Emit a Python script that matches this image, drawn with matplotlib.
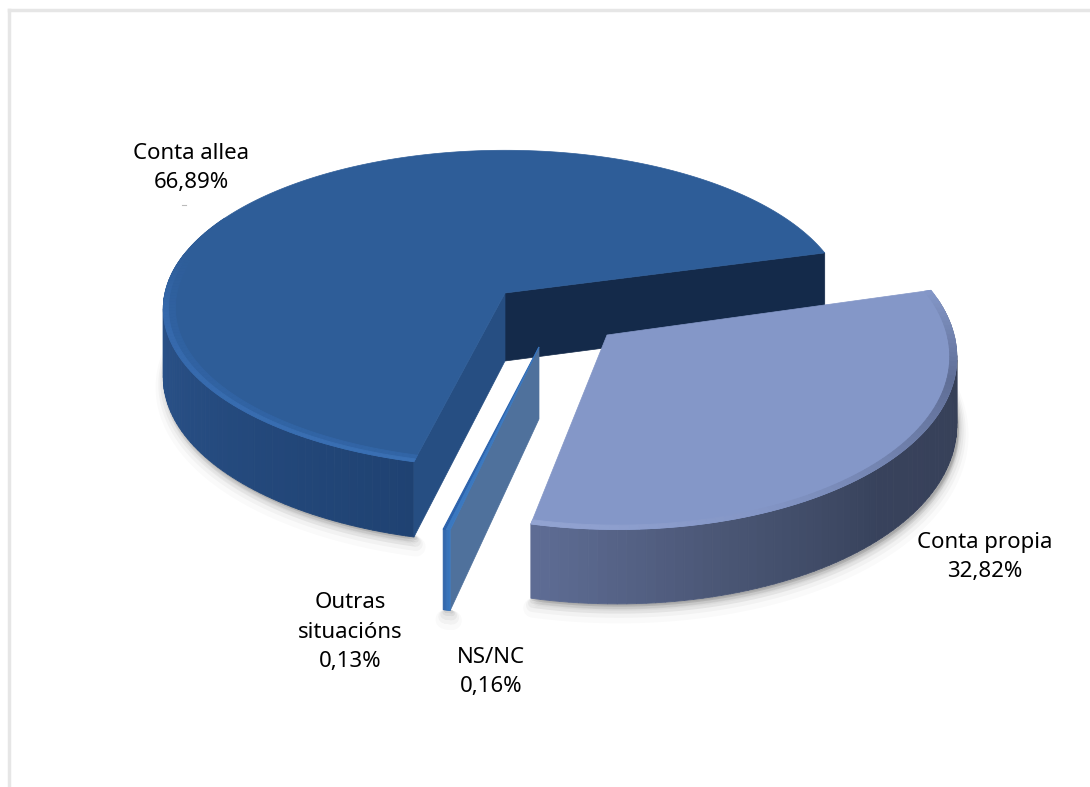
import numpy as np
import matplotlib
matplotlib.use('Agg')
from matplotlib import pyplot as plt
from matplotlib.collections import PolyCollection
from matplotlib.colors import to_rgb
from matplotlib.patches import Polygon

# data
categories = ['Conta allea', 'Outras\nsituacións', 'NS/NC', 'Conta propia']
shares = [66.89, 0.13, 0.16, 32.82]
share_labels = ['66,89%', '0,13%', '0,16%', '32,82%']

start_angle = 15.2
k_persp = 0.1

# drawing setup for each slice
main = dict(cx=505, cy=293, a=340, b=157, sh=0, h=68)
sliver = dict(cx=539, cy=347, a=325, b=154, sh=0, h=72)
own = dict(cx=607, cy=335, a=347, b=175, sh=-9.3, h=67)

label_pos = [(191, 168), (350, 632), (491, 672), (985, 557)]

# cumulative angles come from the shares
angles = start_angle + np.cumsum([0] + shares) * 3.6


def project(p, theta, r=1.0, z=0.0):
    th = np.radians(theta)
    x = r * np.cos(th)
    y = r * np.sin(th)
    w = 1.0 / (1.0 + k_persp * y)
    return (p['cx'] + p['a'] * x * w + p['sh'] * y * w,
            p['cy'] - p['b'] * y * w + p['h'] * z * w)


def pts(p, thetas, r=1.0, z=0.0):
    xs, ys = project(p, np.asarray(thetas, dtype=float), r, z)
    return np.column_stack([xs, ys])


def mix(c1, c2, t):
    c1, c2 = np.array(to_rgb(c1)), np.array(to_rgb(c2))
    return tuple(c1 + (c2 - c1) * t)


def ramp(t, stops):
    # stops is a list of (pos, colour)
    for (t0, c0), (t1, c1) in zip(stops[:-1], stops[1:]):
        if t <= t1:
            return mix(c0, c1, (t - t0) / (t1 - t0))
    return to_rgb(stops[-1][1])


def strip(ax, p, t0, t1, stops, r0, z0, r1, z1, n=80, zorder=3):
    # band of small quads with a colour that changes along the angle
    th = np.linspace(t0, t1, n + 1)
    a = pts(p, th, r0, z0)
    b = pts(p, th, r1, z1)
    quads, cols = [], []
    for i in range(n):
        quads.append([a[i], a[i + 1], b[i + 1], b[i]])
        cols.append(ramp((i + 0.5) / n, stops))
    ax.add_collection(PolyCollection(quads, facecolors=cols, edgecolors=cols,
                                     linewidths=0.6, zorder=zorder))


def top_poly(p, t0, t1, r=1.0):
    th = np.linspace(t0, t1, 200)
    return np.vstack([pts(p, [t0], 0, 0), pts(p, th, r, 0)])


def shadow(ax, p, t0, t1, r=1.0, zorder=1):
    # soft grey shadow under the slice
    base = pts(p, np.linspace(t0, t1, 150), r, 1.0)
    for grow, alpha in zip([14, 10, 7, 4, 2], [0.02, 0.03, 0.04, 0.05, 0.06]):
        poly = base + np.array([2, grow * 0.7])
        ax.add_patch(Polygon(poly, closed=True, fc='#000000', ec='#000000', lw=grow,
                             alpha=alpha, joinstyle='round', zorder=zorder))


fig = plt.figure(figsize=(10.9, 7.87), dpi=100)
ax = fig.add_axes([0, 0, 1, 1])
ax.set_xlim(0, 1090)
ax.set_ylim(787, 0)
ax.axis('off')

# frame of the pasted picture
ax.plot([9, 9], [787, 10], color='#e6e6e6', lw=2.5, zorder=0)
ax.plot([9, 1090], [10, 10], color='#e6e6e6', lw=2.5, zorder=0)
ax.plot([182, 186], [205, 205], color='#bbbbbb', lw=0.8, zorder=0)

# --- Conta allea
t0, t1 = angles[0], angles[1]
shadow(ax, main, 170, t1)
back = np.vstack([pts(main, [t0], 1, 0), pts(main, [t0], 1, 1), pts(main, [0], 0, 1), pts(main, [0], 0, 0)])
ax.add_patch(Polygon(back, closed=True, fc='#142a4a', ec='#142a4a', lw=0.5, zorder=2))
strip(ax, main, 150, t1, [(0, '#2a5690'), (0.45, '#284f85'), (1, '#1f4272')], 1, 0, 1, 1, zorder=3)
front = np.vstack([pts(main, [0], 0, 0), pts(main, [t1], 1, 0), pts(main, [t1], 1, 1), pts(main, [0], 0, 1)])
ax.add_patch(Polygon(front, closed=True, fc='#264e82', ec='#264e82', lw=0.5, zorder=4))
ax.add_patch(Polygon(top_poly(main, t0, t1), closed=True, fc='#2e5d98', ec='#2e5d98', lw=0.5, zorder=5))
# soft bevel on the front rim, two rings to blur it
strip(ax, main, 165, t1, [(0, '#2e5d98'), (0.25, '#3061a0'), (1, '#3265a6')], 0.965, 0, 0.985, 0, zorder=6)
strip(ax, main, 165, t1, [(0, '#2e5d98'), (0.25, '#3568ab'), (1, '#3a70b4')], 0.985, 0, 1, 0, zorder=6)

# --- Outras situacións and NS/NC, the two thin slices
t2, t3 = angles[1], angles[3]
shadow(ax, sliver, t2, t3, r=1.09)
face = np.vstack([pts(sliver, [0], 0, 0), pts(sliver, [t3], 1.09, 0), pts(sliver, [t3], 1.09, 1), pts(sliver, [0], 0, 1)])
ax.add_patch(Polygon(face, closed=True, fc='#4f719c', ec='#4f719c', lw=0.5, zorder=7))
strip(ax, sliver, t2, t3, [(0, '#2f62a6'), (1, '#3a78c0')], 1.09, 0, 1.09, 1, n=6, zorder=7)
ax.add_patch(Polygon(top_poly(sliver, t2, angles[2], r=1.09), closed=True, fc='#2c62ac', ec='#2c62ac', lw=0.8, zorder=8))
ax.add_patch(Polygon(top_poly(sliver, angles[2], t3, r=1.09), closed=True, fc='#3a78c0', ec='#3a78c0', lw=0.6, zorder=8))

# --- Conta propia
t4, t5 = angles[3], angles[4]
shadow(ax, own, t4, 372)
strip(ax, own, t4, 372, [(0, '#5f6d95'), (0.25, '#4a5675'), (0.5, '#38425c'), (1, '#363f56')], 1, 0, 1, 1, zorder=9)
ax.add_patch(Polygon(top_poly(own, t4, t5), closed=True, fc='#8497c8', ec='#8497c8', lw=0.5, zorder=10))
strip(ax, own, t4, t5, [(0, '#93a4d2'), (0.3, '#8496c6'), (0.75, '#5f6e96'), (1, '#8497c8')], 0.98, 0, 1, 0, zorder=11)

# --- labels
for name, val, (lx, ly) in zip(categories, share_labels, label_pos):
    ax.text(lx, ly, name + '\n' + val, ha='center', va='center', fontsize=16,
            family=['Noto Sans', 'DejaVu Sans'], color='black', linespacing=1.55, zorder=20)

fig.savefig('out.png', dpi=100, facecolor='white')
